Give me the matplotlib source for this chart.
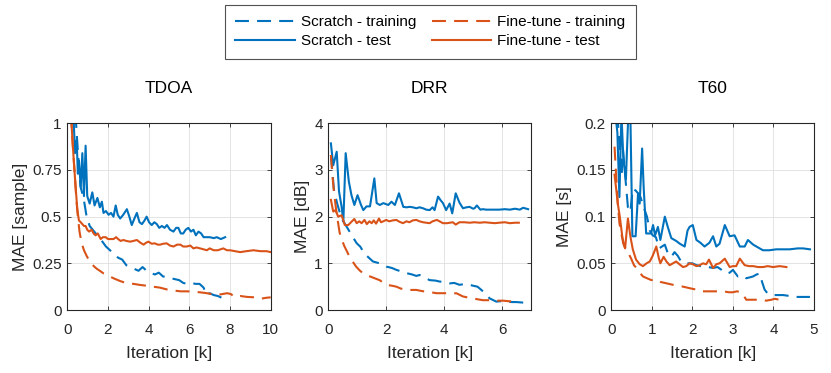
import matplotlib
matplotlib.use("Agg")
import matplotlib.pyplot as plt
from matplotlib.lines import Line2D

plt.rcParams['font.family'] = ['Liberation Sans', 'DejaVu Sans']

BLUE = '#0072BD'
ORANGE = '#D95319'

# ---------------- TDOA ----------------
tdoa_scratch_test_x = [0.3, 0.38, 0.46, 0.52, 0.57, 0.66, 0.74, 0.82, 0.9, 0.98, 1.1, 1.23, 1.34, 1.48, 1.6,
                       1.7, 1.78, 1.9, 2.03, 2.15, 2.27, 2.38, 2.48, 2.6, 2.75, 2.93, 3.05, 3.17, 3.3, 3.42,
                       3.55, 3.67, 3.8, 3.9, 4.02, 4.15, 4.28, 4.4, 4.52, 4.65, 4.78, 4.9, 5.05, 5.22, 5.35,
                       5.46, 5.58, 5.7, 5.82, 5.95, 6.08, 6.2, 6.32, 6.45, 6.58, 6.7, 6.85, 7.0, 7.2, 7.35,
                       7.55, 7.76]
tdoa_scratch_test_y = [1.05, 0.84, 0.91, 0.73, 0.8, 0.66, 0.84, 0.61, 0.88, 0.61, 0.57, 0.63, 0.56, 0.6, 0.55,
                       0.58, 0.52, 0.53, 0.51, 0.52, 0.5, 0.56, 0.51, 0.49, 0.51, 0.54, 0.5, 0.455, 0.49, 0.52,
                       0.47, 0.46, 0.48, 0.5, 0.47, 0.455, 0.47, 0.46, 0.44, 0.45, 0.44, 0.455, 0.43, 0.42, 0.44,
                       0.44, 0.41, 0.41, 0.43, 0.44, 0.42, 0.43, 0.40, 0.42, 0.41, 0.39, 0.39, 0.39, 0.385, 0.39,
                       0.38, 0.39]
tdoa_scratch_train_x = [0.4, 0.52, 0.65, 0.8, 0.95, 1.1, 1.25, 1.4, 1.55, 1.7, 1.9, 2.1, 2.3, 2.5, 2.7, 2.9,
                        3.1, 3.3, 3.5, 3.7, 3.9, 4.1, 4.3, 4.5, 4.7, 4.9, 5.1, 5.3, 5.5, 5.7, 5.9, 6.1, 6.3,
                        6.5, 6.7, 6.85, 7.0, 7.2, 7.4, 7.6, 7.8]
tdoa_scratch_train_y = [1.05, 0.85, 0.66, 0.6, 0.5, 0.45, 0.43, 0.41, 0.39, 0.37, 0.34, 0.32, 0.3, 0.28, 0.27,
                        0.24, 0.23, 0.22, 0.21, 0.23, 0.21, 0.2, 0.19, 0.2, 0.18, 0.175, 0.17, 0.165, 0.16,
                        0.145, 0.14, 0.145, 0.14, 0.14, 0.12, 0.08, 0.09, 0.08, 0.075, 0.065, 0.06]
tdoa_fine_test_x = [0.18, 0.25, 0.33, 0.41, 0.49, 0.57, 0.66, 0.74, 0.82, 0.9, 0.98, 1.07, 1.2, 1.29, 1.39,
                    1.5, 1.64, 1.75, 1.89, 2.0, 2.13, 2.27, 2.4, 2.5, 2.62, 2.76, 2.9, 3.09, 3.25, 3.42, 3.6,
                    3.75, 3.87, 3.99, 4.15, 4.3, 4.45, 4.56, 4.72, 4.89, 5.05, 5.22, 5.4, 5.56, 5.7, 5.87,
                    6.05, 6.2, 6.35, 6.53, 6.7, 6.86, 7.0, 7.2, 7.4, 7.67, 7.85, 8.0, 8.25, 8.5, 8.8, 9.15,
                    9.5, 9.8, 10.0]
tdoa_fine_test_y = [1.05, 0.92, 0.78, 0.66, 0.54, 0.48, 0.47, 0.46, 0.45, 0.45, 0.43, 0.42, 0.43, 0.41, 0.40,
                    0.41, 0.38, 0.39, 0.39, 0.38, 0.38, 0.38, 0.39, 0.38, 0.37, 0.375, 0.37, 0.366, 0.37,
                    0.375, 0.36, 0.35, 0.36, 0.366, 0.355, 0.357, 0.35, 0.35, 0.355, 0.357, 0.345, 0.34, 0.35,
                    0.35, 0.34, 0.34, 0.345, 0.33, 0.335, 0.33, 0.325, 0.32, 0.33, 0.32, 0.32, 0.33, 0.32,
                    0.32, 0.315, 0.31, 0.315, 0.32, 0.315, 0.315, 0.31]
tdoa_fine_train_x = [0.18, 0.27, 0.36, 0.44, 0.52, 0.6, 0.7, 0.82, 0.95, 1.1, 1.3, 1.46, 1.6, 1.78, 2.0, 2.27,
                     2.6, 2.93, 3.25, 3.59, 3.9, 4.2, 4.55, 4.9, 5.2, 5.56, 5.9, 6.2, 6.5, 6.86, 7.1, 7.35,
                     7.6, 7.86, 8.05, 8.2, 8.5, 8.85, 9.2, 9.5, 9.75, 10.0]
tdoa_fine_train_y = [1.05, 0.88, 0.74, 0.6, 0.5, 0.42, 0.36, 0.32, 0.29, 0.26, 0.235, 0.22, 0.21, 0.196,
                     0.185, 0.17, 0.155, 0.143, 0.14, 0.134, 0.13, 0.125, 0.12, 0.11, 0.105, 0.1, 0.1, 0.098,
                     0.095, 0.09, 0.085, 0.08, 0.085, 0.09, 0.085, 0.07, 0.075, 0.07, 0.068, 0.06, 0.065, 0.068]

# ---------------- DRR ----------------
drr_scratch_test_x = [0.09, 0.17, 0.29, 0.37, 0.46, 0.52, 0.6, 0.71, 0.8, 0.9, 1.01, 1.13, 1.21, 1.32, 1.44,
                      1.59, 1.67, 1.78, 1.9, 2.07, 2.18, 2.3, 2.44, 2.59, 2.7, 2.81, 2.92, 3.04, 3.15, 3.27,
                      3.38, 3.5, 3.6, 3.67, 3.79, 3.88, 3.96, 4.07, 4.19, 4.28, 4.4, 4.53, 4.65, 4.77, 4.88,
                      5.0, 5.05, 5.13, 5.25, 5.34, 5.45, 5.57, 5.7, 5.9, 6.1, 6.27, 6.45, 6.61, 6.73, 6.9]
drr_scratch_test_y = [3.57, 3.1, 3.39, 2.54, 2.21, 1.9, 3.36, 2.75, 2.46, 2.25, 2.46, 2.25, 2.14, 2.22, 2.22,
                      2.82, 2.29, 2.25, 2.29, 2.25, 2.32, 2.25, 2.5, 2.21, 2.2, 2.21, 2.2, 2.18, 2.2, 2.18,
                      2.15, 2.14, 2.2, 2.14, 2.43, 2.35, 2.29, 2.14, 2.28, 2.07, 2.5, 2.3, 2.18, 2.2, 2.21,
                      2.17, 2.18, 2.24, 2.15, 2.16, 2.15, 2.15, 2.15, 2.15, 2.16, 2.15, 2.17, 2.15, 2.19, 2.16]
drr_scratch_train_x = [0.09, 0.2, 0.32, 0.46, 0.6, 0.8, 0.98, 1.1, 1.25, 1.4, 1.54, 1.77, 2.0, 2.2, 2.35,
                       2.55, 2.7, 2.9, 3.04, 3.15, 3.27, 3.5, 3.7, 3.84, 4.0, 4.19, 4.35, 4.53, 4.76, 5.0,
                       5.15, 5.23, 5.34, 5.46, 5.57, 5.8, 6.0, 6.15, 6.35, 6.5, 6.7, 6.9]
drr_scratch_train_y = [3.32, 2.54, 2.25, 1.96, 1.82, 1.61, 1.43, 1.36, 1.21, 1.12, 1.04, 1.0, 0.93, 0.9, 0.86,
                       0.82, 0.79, 0.76, 0.73, 0.75, 0.71, 0.64, 0.63, 0.61, 0.6, 0.57, 0.58, 0.54, 0.56, 0.52,
                       0.5, 0.46, 0.4, 0.32, 0.25, 0.18, 0.19, 0.18, 0.17, 0.17, 0.16, 0.16]
drr_fine_test_x = [0.09, 0.17, 0.25, 0.34, 0.46, 0.57, 0.69, 0.8, 0.9, 0.98, 1.07, 1.15, 1.25, 1.33, 1.42,
                   1.5, 1.57, 1.65, 1.75, 1.82, 1.9, 2.0, 2.1, 2.23, 2.35, 2.46, 2.58, 2.7, 2.8, 2.92, 3.04,
                   3.15, 3.27, 3.38, 3.5, 3.6, 3.75, 3.96, 4.1, 4.3, 4.4, 4.53, 4.7, 4.88, 5.05, 5.23, 5.4,
                   5.57, 5.75, 5.9, 6.1, 6.27, 6.45, 6.58]
drr_fine_test_y = [2.36, 2.11, 2.14, 2.0, 2.03, 1.82, 1.82, 1.89, 1.95, 1.86, 1.9, 1.86, 1.93, 1.84, 1.9,
                   1.86, 1.92, 1.85, 1.96, 1.88, 1.9, 1.93, 1.9, 1.92, 1.93, 1.89, 1.86, 1.9, 1.88, 1.92,
                   1.93, 1.9, 1.88, 1.87, 1.86, 1.9, 1.93, 1.86, 1.86, 1.88, 1.83, 1.88, 1.88, 1.87, 1.88,
                   1.87, 1.88, 1.87, 1.86, 1.87, 1.88, 1.86, 1.87, 1.87]
drr_fine_train_x = [0.09, 0.14, 0.2, 0.27, 0.33, 0.39, 0.47, 0.56, 0.65, 0.73, 0.85, 0.96, 1.08, 1.19, 1.33,
                    1.48, 1.6, 1.77, 2.0, 2.2, 2.35, 2.5, 2.7, 2.9, 3.04, 3.2, 3.38, 3.55, 3.73, 3.9, 4.07,
                    4.25, 4.42, 4.65, 4.8, 5.0, 5.15, 5.34, 5.5, 5.68, 5.85, 6.03, 6.2, 6.38]
drr_fine_train_y = [3.32, 2.89, 2.5, 2.15, 1.9, 1.66, 1.5, 1.36, 1.25, 1.14, 1.03, 0.93, 0.85, 0.79, 0.74,
                    0.71, 0.68, 0.64, 0.54, 0.52, 0.5, 0.46, 0.43, 0.43, 0.43, 0.41, 0.39, 0.38, 0.36, 0.36,
                    0.36, 0.35, 0.36, 0.29, 0.27, 0.25, 0.23, 0.21, 0.21, 0.21, 0.2, 0.2, 0.19, 0.18]

# ---------------- T60 ----------------
t60_scratch_test_x = [0.1, 0.15, 0.2, 0.25, 0.3, 0.36, 0.42, 0.47, 0.52, 0.6, 0.66, 0.7, 0.76, 0.8, 0.86, 0.9,
                      0.98, 1.03, 1.08, 1.15, 1.21, 1.32, 1.4, 1.48, 1.6, 1.69, 1.81, 1.88, 1.93, 2.01, 2.1,
                      2.2, 2.3, 2.42, 2.51, 2.59, 2.67, 2.8, 2.92, 3.04, 3.17, 3.29, 3.37, 3.5, 3.62, 3.74,
                      3.9, 4.07, 4.25, 4.4, 4.6, 4.73, 4.9]
t60_scratch_test_y = [0.21, 0.19, 0.121, 0.21, 0.16, 0.14, 0.21, 0.21, 0.079, 0.079, 0.125, 0.114, 0.173,
                      0.13, 0.082, 0.082, 0.082, 0.091, 0.08, 0.089, 0.075, 0.1, 0.088, 0.077, 0.074, 0.071,
                      0.068, 0.085, 0.089, 0.091, 0.075, 0.072, 0.068, 0.072, 0.079, 0.068, 0.071, 0.091,
                      0.079, 0.08, 0.068, 0.068, 0.075, 0.07, 0.067, 0.064, 0.064, 0.065, 0.065, 0.065,
                      0.066, 0.066, 0.065]
t60_scratch_train_x = [0.15, 0.2, 0.25, 0.29, 0.35, 0.41, 0.47, 0.53, 0.6, 0.66, 0.72, 0.8, 0.88, 0.95, 1.02,
                       1.1, 1.18, 1.25, 1.32, 1.4, 1.48, 1.56, 1.64, 1.72, 1.8, 1.9, 2.0, 2.1, 2.2, 2.3, 2.4,
                       2.51, 2.62, 2.72, 2.84, 2.92, 3.0, 3.12, 3.22, 3.33, 3.42, 3.5, 3.58, 3.66, 3.72, 3.78,
                       3.85, 3.95, 4.1, 4.24, 4.4, 4.55, 4.7, 4.9]
t60_scratch_train_y = [0.21, 0.179, 0.143, 0.171, 0.14, 0.11, 0.105, 0.13, 0.128, 0.125, 0.121, 0.11, 0.1,
                       0.085, 0.08, 0.078, 0.066, 0.068, 0.07, 0.06, 0.057, 0.062, 0.058, 0.052, 0.05, 0.05,
                       0.05, 0.048, 0.047, 0.047, 0.046, 0.045, 0.046, 0.043, 0.039, 0.04, 0.043, 0.036,
                       0.037, 0.034, 0.035, 0.036, 0.038, 0.039, 0.03, 0.022, 0.018, 0.016, 0.016, 0.016,
                       0.015, 0.014, 0.014, 0.014]
t60_fine_test_x = [0.08, 0.12, 0.16, 0.21, 0.25, 0.29, 0.34, 0.41, 0.47, 0.53, 0.61, 0.7, 0.78, 0.87, 0.95,
                   1.02, 1.11, 1.17, 1.21, 1.29, 1.36, 1.44, 1.52, 1.6, 1.68, 1.77, 1.85, 1.93, 2.01, 2.1,
                   2.18, 2.26, 2.34, 2.41, 2.51, 2.59, 2.67, 2.8, 2.92, 3.0, 3.08, 3.17, 3.29, 3.4, 3.5,
                   3.62, 3.74, 3.86, 3.99, 4.15, 4.32]
t60_fine_test_y = [0.145, 0.13, 0.114, 0.1, 0.086, 0.072, 0.066, 0.098, 0.079, 0.065, 0.054, 0.049, 0.047,
                   0.05, 0.052, 0.058, 0.068, 0.056, 0.05, 0.057, 0.052, 0.048, 0.05, 0.052, 0.049, 0.046,
                   0.047, 0.05, 0.049, 0.047, 0.048, 0.05, 0.049, 0.054, 0.045, 0.049, 0.05, 0.055, 0.046,
                   0.047, 0.047, 0.055, 0.048, 0.047, 0.047, 0.046, 0.046, 0.047, 0.046, 0.047, 0.046]
t60_fine_train_x = [0.08, 0.12, 0.16, 0.2, 0.26, 0.33, 0.41, 0.49, 0.56, 0.62, 0.7, 0.78, 0.88, 0.99, 1.07,
                    1.15, 1.22, 1.32, 1.42, 1.52, 1.65, 1.77, 1.87, 1.97, 2.08, 2.18, 2.3, 2.43, 2.6, 2.76,
                    2.9, 3.0, 3.1, 3.21, 3.27, 3.33, 3.45, 3.58, 3.7, 3.82, 3.95, 4.03, 4.15, 4.3]
t60_fine_train_y = [0.175, 0.143, 0.114, 0.093, 0.079, 0.068, 0.062, 0.055, 0.048, 0.045, 0.04, 0.036,
                    0.034, 0.032, 0.033, 0.032, 0.03, 0.029, 0.028, 0.027, 0.026, 0.025, 0.024, 0.023,
                    0.022, 0.02, 0.02, 0.02, 0.02, 0.02, 0.019, 0.019, 0.02, 0.019, 0.015, 0.011, 0.011,
                    0.011, 0.011, 0.01, 0.011, 0.012, 0.011, 0.012]

titles = ['TDOA', 'DRR', 'T60']
ylabels = ['MAE [sample]', 'MAE [dB]', 'MAE [s]']
xlabel = 'Iteration [k]'
legend_labels = ['Scratch - training', 'Scratch - test', 'Fine-tune - training', 'Fine-tune - test']

panels = [
    dict(st=(tdoa_scratch_train_x, tdoa_scratch_train_y), se=(tdoa_scratch_test_x, tdoa_scratch_test_y),
         ft=(tdoa_fine_train_x, tdoa_fine_train_y), fe=(tdoa_fine_test_x, tdoa_fine_test_y),
         xlim=(0, 10), ylim=(0, 1), xticks=[0, 2, 4, 6, 8, 10],
         yticks=[0, 0.25, 0.5, 0.75, 1], yticklabels=['0', '0.25', '0.5', '0.75', '1']),
    dict(st=(drr_scratch_train_x, drr_scratch_train_y), se=(drr_scratch_test_x, drr_scratch_test_y),
         ft=(drr_fine_train_x, drr_fine_train_y), fe=(drr_fine_test_x, drr_fine_test_y),
         xlim=(0, 7), ylim=(0, 4), xticks=[0, 2, 4, 6],
         yticks=[0, 1, 2, 3, 4], yticklabels=['0', '1', '2', '3', '4']),
    dict(st=(t60_scratch_train_x, t60_scratch_train_y), se=(t60_scratch_test_x, t60_scratch_test_y),
         ft=(t60_fine_train_x, t60_fine_train_y), fe=(t60_fine_test_x, t60_fine_test_y),
         xlim=(0, 5), ylim=(0, 0.2), xticks=[0, 1, 2, 3, 4, 5],
         yticks=[0, 0.05, 0.1, 0.15, 0.2], yticklabels=['0', '0.05', '0.1', '0.15', '0.2']),
]

fig = plt.figure(figsize=(8.31, 3.73), dpi=100)
W, H = 831.0, 373.0
lefts = [67.3, 328.3, 611.3]
rights = [270.7, 531.0, 814.0]
top, bottom = 123.3, 310.0

LW = 1.5
DASH = (6.7, 3.9)
TXT = '#262626'

for i, p in enumerate(panels):
    ax = fig.add_axes([lefts[i] / W, 1 - bottom / H, (rights[i] - lefts[i]) / W, (bottom - top) / H])
    ax.plot(*p['st'], color=BLUE, lw=LW, linestyle=(0, DASH))
    ax.plot(*p['se'], color=BLUE, lw=LW)
    ax.plot(*p['ft'], color=ORANGE, lw=LW, linestyle=(0, DASH))
    ax.plot(*p['fe'], color=ORANGE, lw=LW)
    ax.set_xlim(*p['xlim'])
    ax.set_ylim(*p['ylim'])
    ax.set_xticks(p['xticks'])
    ax.set_yticks(p['yticks'])
    ax.set_yticklabels(p['yticklabels'])
    ax.grid(True, color='#dfdfdf', lw=0.6)
    ax.set_axisbelow(True)
    ax.tick_params(direction='in', top=True, right=True, length=3, width=0.6,
                   labelsize=11, colors=TXT)
    ax.tick_params(axis='x', pad=9.5)
    ax.tick_params(axis='y', pad=4)
    for s in ax.spines.values():
        s.set_linewidth(0.8)
        s.set_color(TXT)
    ax.set_title(titles[i], fontsize=12.5, pad=22, color='black')
    ax.set_xlabel(xlabel, fontsize=12.5, color=TXT, labelpad=6)
    ax.set_ylabel(ylabels[i], fontsize=12.5, color=TXT, labelpad=3)

handles = [Line2D([], [], color=BLUE, lw=LW, linestyle=(0, DASH)),
           Line2D([], [], color=BLUE, lw=LW),
           Line2D([], [], color=ORANGE, lw=LW, linestyle=(0, DASH)),
           Line2D([], [], color=ORANGE, lw=LW)]
leg = fig.legend(handles, legend_labels, ncol=2, loc='upper center',
                 bbox_to_anchor=(430.5 / W, 1 - 5 / H), fontsize=11, frameon=True,
                 fancybox=False, edgecolor=TXT, handlelength=3.9, handletextpad=0.4,
                 columnspacing=1.0, labelspacing=0.33, borderpad=0.68, borderaxespad=0)
leg.get_frame().set_linewidth(0.8)

fig.savefig('out.png', dpi=100)
